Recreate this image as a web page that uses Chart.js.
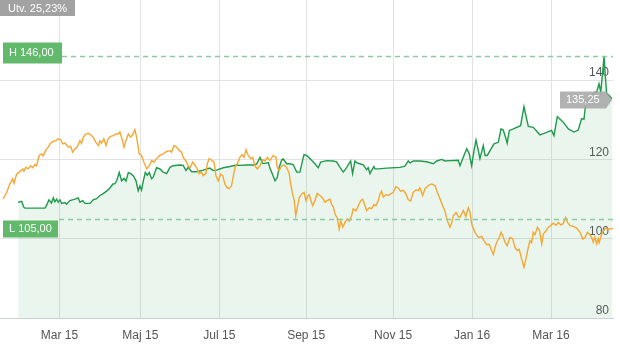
<!DOCTYPE html>
<html><head><meta charset="utf-8">
<script src="https://cdn.jsdelivr.net/npm/chart.js@4.4.1/dist/chart.umd.min.js"></script>
<style>html,body{margin:0;padding:0;background:#fff}canvas{display:block}</style>
</head><body>
<canvas id="c" width="620" height="353"></canvas>
<script>
// x = trading-day index, 0 = first trading day of March 2015
const tickDays = [0, 41, 81, 125, 169, 209, 249];
const tickLabels = ['Mar 15', 'Maj 15', 'Jul 15', 'Sep 15', 'Nov 15', 'Jan 16', 'Mar 16'];
const yTicks = [80, 100, 120, 140];
const xRange = [-30.1, 280.4];
const yRange = [80, 160.2];

const stockDays = [-20.9,-19.1,-18,-17.5,-7.3,-6.5,-5.3,-4,-3.1,-2.3,-1.4,-0.6,0.3,1.1,2.8,3.6,5.3,7.9,9.5,10.4,11.8,12.9,15.5,17.1,18.8,20.5,22,23.9,25.6,27.1,28.1,29,30.3,31.5,32.7,33.7,34.9,36.1,37.4,38.8,39.9,40.8,41.6,42.5,43.5,44.5,45.5,46.7,47.5,49.2,50.9,52.6,54.3,56,57.6,61,62.7,64.1,65.2,67,69.5,72.8,76.2,77.9,79.6,83,86.4,89.8,91.4,94.8,98.2,99.9,101.6,102.9,104.1,105.8,106.6,108,109.2,110.3,111.3,112.6,113.4,115.1,116.8,118.4,120.2,121.8,123.2,123.9,125.2,126.9,129.4,131.1,132.3,135.4,138.7,140.4,142.1,143.8,145.5,147.5,148.5,149.7,150.5,152.2,153.9,155.6,156.4,157.3,158.2,159.3,159.8,161.5,165.8,172.5,175,176.7,177.6,179.3,182.6,186,189.4,191.1,193.6,195.3,197.8,202,202.9,204.6,206.3,207.6,208.8,210,211,212.2,213,214.7,215.6,216.7,218.1,220.1,222.3,223.7,224.8,226.2,226.8,227.9,229.9,233.6,235.3,237.5,240,243.4,246.8,249.3,250.5,252.2,255.2,257.8,260.6,262.8,264.5,265.7,266.7,267.9,269.6,271.3,272.1,273.3,274.2,275.2,275.9,276.5,277.2,278.5,279.9];
const stockValues = [109.2,109.4,107.9,107.7,107.7,108.4,109.8,109.0,110.3,109.3,110.0,109.2,109.8,108.9,109.1,108.7,109.6,110.0,110.3,109.2,109.6,108.9,108.9,109.8,110.1,110.9,111.3,112.0,112.8,113.8,113.9,114.6,116.7,114.6,115.2,114.5,116.7,116.4,115.9,114.6,112.1,113.3,112.3,114.6,116.7,116.0,116.7,115.1,115.5,117.9,117.6,116.8,116.4,118.0,118.4,118.6,118.5,117.2,118.0,116.9,116.9,117.3,117.8,117.2,117.3,117.9,118.2,118.6,118.5,118.6,118.6,118.8,120.5,119.0,119.0,119.2,117.9,116.1,114.6,115.4,118.0,119.9,120.1,118.9,118.9,118.7,116.8,116.8,119.8,121.2,121.0,120.2,118.9,117.9,119.3,119.7,119.6,119.4,118.0,116.8,118.0,119.6,116.4,119.6,119.2,118.9,118.6,117.4,117.9,116.4,117.3,118.2,117.6,117.6,117.8,118.0,118.3,119.6,119.1,119.6,119.6,119.4,118.9,119.6,120.0,119.6,119.7,119.8,118.4,120.6,122.7,121.4,118.4,122.2,124.9,122.2,120.2,123.5,121.0,121.0,122.2,123.9,124.3,127.7,127.4,125.2,124.1,127.3,127.7,128.5,133.3,128.3,128.1,126.2,126.8,127.3,126.0,130.8,129.4,127.7,126.9,127.4,130.3,130.1,134.8,134.5,136.1,137.0,136.9,139.1,137.0,142.4,146.0,141.1,136.6,136.1,135.25];

const indexDays = [-28.5,-26.7,-25.1,-23.7,-23,-21.7,-20,-18.6,-18,-17,-15.8,-14.6,-13.6,-12.4,-11.6,-10.2,-9,-8.2,-6.8,-5.7,-4.5,-3.1,-1.8,-0.6,0.6,1.6,2.8,4.5,5.7,6.7,7.9,9,10.4,11.2,12.1,13.4,14.6,15.8,17.1,18.5,19.7,20.5,21.4,22.5,23.6,24.7,25.9,27.3,28.6,29.8,30.6,32,32.7,33.7,34.9,36.1,37.1,38.2,39.1,40.4,41.6,42.8,44.2,45.5,46.7,47.9,49.2,50.9,52.6,54.3,56,56.8,58,59.4,60.7,61.9,62.7,64.1,65.2,66.1,67.5,68.6,69.8,70.8,72,72.8,74.2,74.9,75.9,77.1,78.3,79.3,80.4,81.7,82.7,83.8,84.7,86,87.2,88,88.9,90.1,91.4,92.5,93.5,94.5,95.6,96.9,97.9,99,100.2,101.6,102.9,104.1,105.3,106.6,108.3,109.7,110.3,111.3,112.6,113.7,115.1,116.4,117.1,118.1,118.9,119.7,120.5,121.5,122.7,123.9,124.9,126,126.5,127.4,128.3,129.4,130.6,132,133.3,134.5,135.7,137,137.9,138.7,139.6,140.7,141.7,142.5,143.5,144.6,145.8,146.8,148,148.8,150.2,151.4,152.6,153.6,154.8,155.6,156.9,158.2,159.3,160.3,161.5,162.4,163.2,164,165.4,166.6,167.8,169.1,170.5,171.6,172.8,174.2,175.5,176.7,177.9,179.2,180.6,181.8,182.6,184,185.2,186.8,188.5,190.2,191.4,192.8,194.1,195.3,196.5,197.8,198.7,199.5,200.9,202,202.9,204.6,205.8,207.1,208,208.8,210.5,212.2,213.9,215,216.4,217.7,218.9,219.8,220.6,221.5,222.8,223.7,224.5,225.7,226.8,228.2,229.6,230.7,231.9,232.9,234.1,235.3,236.3,237.5,238.3,239.2,240,240.9,242.1,243.1,244.3,245.1,246.5,247.6,248.8,250.2,251.6,252.7,253.9,255.2,256.4,257.4,258.6,260.3,262,263.7,265.1,266.2,267.4,268.4,269.6,270.4,271.2,272.1,272.9,273.4,274.7,276.5,278.1,280.4];
const indexValues = [110.0,111.7,113.8,115.1,114.0,116.3,116.9,117.6,117.0,118.0,117.6,118.4,117.9,118.7,118.4,121.0,121.4,120.9,122.4,123.1,124.1,124.6,124.7,125.2,125.0,123.9,124.1,123.1,123.3,121.8,122.7,123.1,124.7,124.0,125.6,126.4,126.6,126.2,125.6,124.3,123.5,124.7,124.1,125.2,123.5,125.2,125.8,126.0,126.4,126.4,126.9,124.7,123.1,124.7,126.4,125.6,126.2,127.5,125.6,121.4,121.0,119.3,117.6,118.4,119.7,119.3,120.2,121.0,121.4,122.0,122.2,121.8,123.5,123.1,122.2,121.8,120.5,119.6,118.4,117.9,119.3,118.6,117.6,116.4,116.8,115.9,116.4,118.9,120.2,119.8,119.3,115.9,114.6,116.3,115.9,113.8,113.0,112.6,113.4,115.5,118.0,118.9,120.5,121.2,120.5,122.4,121.0,120.2,120.5,118.4,117.6,118.4,119.9,119.6,120.5,119.7,121.0,120.5,118.0,117.2,118.4,118.6,118.0,116.4,113.8,111.3,109.8,105.8,107.9,110.4,111.3,111.7,109.6,110.9,111.1,109.6,108.3,109.6,111.4,110.9,110.2,109.2,109.6,110.0,108.6,108.1,106.2,105.2,102.4,104.5,102.9,104.1,105.0,104.4,105.8,107.5,107.0,108.3,109.6,110.0,108.3,107.1,107.8,107.6,108.6,108.3,109.6,111.3,112.0,110.5,111.1,110.9,111.3,111.7,113.1,112.8,112.0,112.2,111.3,109.8,109.5,111.7,112.3,112.1,112.8,110.9,112.6,113.4,113.8,113.4,111.7,110.0,108.3,106.9,104.5,102.9,104.0,105.8,106.6,105.6,105.4,107.1,105.6,107.8,106.6,103.7,101.6,100.3,100.6,99.5,98.5,98.6,97.0,96.0,97.8,99.1,100.3,101.6,100.8,99.1,98.2,100.3,100.0,97.8,97.0,97.3,94.9,92.8,94.9,97.8,99.5,99.0,101.6,101.0,102.9,102.2,98.7,101.2,102.0,102.9,103.3,103.9,103.4,104.1,103.5,103.8,105.4,104.1,103.3,103.1,102.7,101.6,99.9,100.3,101.6,101.2,100.3,99.1,100.4,98.7,100.0,99.0,101.2,102.6,102.4,102.6];

const highValue = 146.00;
const lowValue = 105.00;
const lastValue = 135.25;
const changePct = 25.23;

const fmt = v => v.toFixed(2).replace('.', ',');
const FONT = '"Liberation Sans", Arial, Helvetica, sans-serif';

const overlay = {
  id: 'overlay',
  afterDatasetsDraw(chart) {
    const {ctx, chartArea: a, scales: {y}} = chart;
    const hy = Math.round(y.getPixelForValue(highValue)) + 0.5;
    const ly = Math.round(y.getPixelForValue(lowValue)) + 0.5;
    ctx.save();
    ctx.setLineDash([5, 4]);
    ctx.strokeStyle = '#8ccb9a';
    ctx.lineWidth = 1.3;
    ctx.beginPath();
    ctx.moveTo(62, hy); ctx.lineTo(a.right, hy);
    ctx.moveTo(59, ly); ctx.lineTo(a.right, ly);
    ctx.stroke();
    ctx.setLineDash([]);
    ctx.font = '11px ' + FONT;
    ctx.textBaseline = 'middle';
    ctx.textAlign = 'left';
    // H box
    ctx.fillStyle = '#62b96b';
    ctx.fillRect(3, hy - 14, 59, 21);
    ctx.fillStyle = '#fff';
    ctx.fillText('H ' + fmt(highValue), 9, hy - 3.5);
    // L box
    ctx.fillStyle = '#62b96b';
    ctx.fillRect(3, ly + 1, 55, 17);
    ctx.fillStyle = '#fff';
    ctx.fillText('L ' + fmt(lowValue), 9, ly + 9.5);
    // change box
    ctx.fillStyle = '#a2a2a2';
    ctx.fillRect(0, 0, 75, 16);
    ctx.fillStyle = '#fff';
    ctx.fillText('Utv. ' + fmt(changePct) + '%', 8, 8.5);
    // last value tag
    const vy = y.getPixelForValue(lastValue) + 1;
    ctx.fillStyle = 'rgba(170,170,170,0.9)';
    ctx.beginPath();
    ctx.moveTo(560, vy - 8.5);
    ctx.lineTo(606, vy - 8.5);
    ctx.lineTo(612, vy);
    ctx.lineTo(606, vy + 8.5);
    ctx.lineTo(560, vy + 8.5);
    ctx.closePath();
    ctx.fill();
    ctx.fillStyle = '#fff';
    ctx.fillText(fmt(lastValue), 566, vy + 0.5);
    ctx.restore();
  }
};

new Chart(document.getElementById('c'), {
  type: 'line',
  data: {
    datasets: [
      {
        label: 'Index',
        data: indexDays.map((d, i) => ({x: d, y: indexValues[i]})),
        borderColor: '#f5a733',
        borderWidth: 1.4,
        pointRadius: 0,
        fill: false,
        tension: 0,
        order: 0
      },
      {
        label: 'Aktie',
        data: stockDays.map((d, i) => ({x: d, y: stockValues[i]})),
        borderColor: '#1f9a4c',
        borderWidth: 1.4,
        pointRadius: 0,
        fill: 'start',
        backgroundColor: 'rgba(60,170,90,0.11)',
        tension: 0,
        order: 1
      }
    ]
  },
  options: {
    responsive: false,
    animation: false,
    layout: {padding: {left: 0, right: 7, top: 0, bottom: 0}},
    plugins: {legend: {display: false}, tooltip: {enabled: false}},
    scales: {
      x: {
        type: 'linear',
        min: xRange[0],
        max: xRange[1],
        afterBuildTicks: s => { s.ticks = tickDays.map(v => ({value: v})); },
        afterFit: s => { s.paddingLeft = 0; s.paddingRight = 0; s.height = 35; },
        grid: {color: '#e2e2e2', drawTicks: false},
        border: {display: true, color: '#c6d0d6'},
        ticks: {
          autoSkip: false,
          maxRotation: 0,
          padding: 10,
          color: '#555',
          font: {size: 12, family: FONT},
          callback: v => tickLabels[tickDays.indexOf(v)]
        }
      },
      y: {
        position: 'right',
        min: yRange[0],
        max: yRange[1],
        afterBuildTicks: s => { s.ticks = yTicks.map(v => ({value: v})); },
        afterFit: s => { s.paddingTop = 0; s.paddingBottom = 0; s.width = 0; },
        grid: {color: '#e2e2e2', drawTicks: false},
        border: {display: false},
        ticks: {
          mirror: true,
          padding: -4,
          labelOffset: -7,
          color: '#555',
          font: {size: 12, family: FONT},
          callback: v => String(v)
        }
      }
    }
  },
  plugins: [overlay]
});
</script>
</body></html>
